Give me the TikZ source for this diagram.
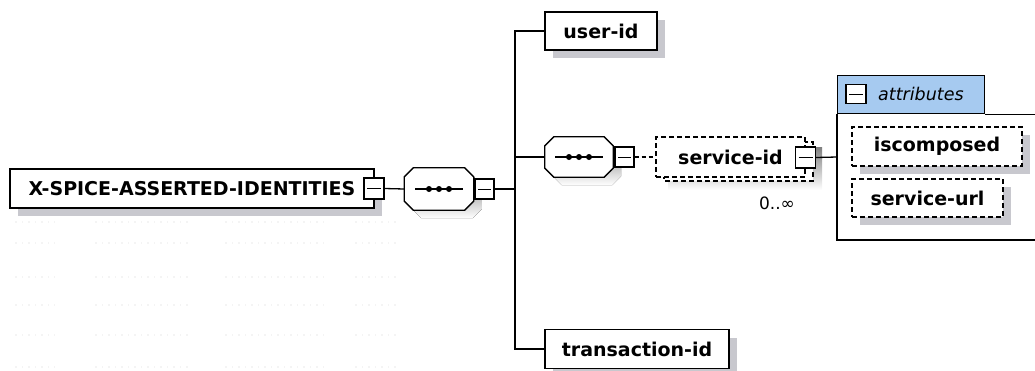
\documentclass[tikz,border=0pt]{standalone}
\usepackage{fontspec}
\setmainfont{DejaVu Sans}
\usetikzlibrary{shadows}
\definecolor{shade}{RGB}{200,200,206}
\definecolor{tabblue}{RGB}{166,202,240}
\definecolor{faint}{RGB}{244,244,244}
\tikzset{
  elem/.style={draw=black, line width=1.5pt, fill=white, inner sep=0pt,
    font=\bfseries\fontsize{19}{19}\selectfont,
    drop shadow={shadow xshift=8pt, shadow yshift=-8pt, fill=shade, opacity=1}},
  optelem/.style={elem, line width=1.2pt, dash pattern=on 5pt off 3pt},
  seqframe/.style={inner sep=0pt},
  minusbox/.style={draw=black, line width=1.2pt, fill=white, inner sep=0pt,
    minimum width=19pt, minimum height=20pt,
    path picture={\draw[line width=1pt]
      ([xshift=3pt]path picture bounding box.west) --
      ([xshift=-3pt]path picture bounding box.east);}},
  conn/.style={line width=1.3pt, draw=black},
  optconn/.style={conn, line width=1.1pt, dash pattern=on 4pt off 3pt},
  faintrow/.style={draw=faint, line width=1.5pt, dash pattern=on 1.5pt off 5pt},
}
% octagonal outline of a compositor node, moved by (#2,#3)
\newcommand{\octpath}[3]{%
  ([xshift=9pt+#2, yshift=#3]#1.north west) -- ([xshift=-9pt+#2, yshift=#3]#1.north east)
  -- ([xshift=#2, yshift=-9pt+#3]#1.north east) -- ([xshift=#2, yshift=9pt+#3]#1.south east)
  -- ([xshift=-9pt+#2, yshift=#3]#1.south east) -- ([xshift=9pt+#2, yshift=#3]#1.south west)
  -- ([xshift=#2, yshift=9pt+#3]#1.south west) -- ([xshift=#2, yshift=-9pt+#3]#1.north west)
  -- cycle}
\newcommand{\seqsymbol}[1]{%
  \fill[shade] \octpath{#1}{8pt}{-8pt};
  \draw[line width=1.3pt, fill=white] \octpath{#1}{0pt}{0pt};
  \draw[line width=1.1pt] ([xshift=-24pt]#1.center) -- ([xshift=24pt]#1.center);
  \foreach \dx in {-10,0,10}
    \fill ([xshift=\dx pt]#1.center) circle (3pt);}
\begin{document}
\begin{tikzpicture}[x=1pt,y=-1pt]
\useasboundingbox (0,0) rectangle (1035,370);

% faint dotted rows at lower left
\foreach \yy in {222,243,277,305,335,367}
  \foreach \xa/\xb in {15/55,95/190,225/325,355/400}
    \draw[faintrow] (\xa,\yy) -- (\xb,\yy);

% root element
\node[elem, minimum width=364pt, minimum height=39pt] (root) at (192,188.5)
  {X-SPICE-ASSERTED-IDENTITIES\hspace{9pt}};
\node[minusbox, minimum width=20pt, minimum height=21pt] (rootminus) at (374,188.5) {};

% outer sequence compositor
\node[seqframe, minimum width=69pt, minimum height=42pt] (seqA) at (439,189) {};
\seqsymbol{seqA}
\node[minusbox] (seqAminus) at (484.5,189) {};

% children of the outer sequence
\coordinate (fork) at (515,189);
\node[elem, minimum width=112pt, minimum height=38pt] (user) at (601,31) {user-id};
\node[elem, minimum width=184pt, minimum height=39pt] (trans) at (637,349) {transaction-id};

% inner sequence compositor
\node[seqframe, minimum width=68pt, minimum height=40pt] (seqB) at (579,157) {};
\seqsymbol{seqB}
\node[minusbox] (seqBminus) at (624.5,157) {};

% optional, repeating element service-id
\fill[shade] (668,147) rectangle (822,190);
\draw[line width=1.2pt, dash pattern=on 5pt off 3pt, fill=white]
  (664,142) rectangle (813,181);
\node[draw=black, line width=1.2pt, dash pattern=on 5pt off 3pt, fill=white,
  inner sep=0pt, minimum width=149pt, minimum height=40pt,
  font=\bfseries\fontsize{19}{19}\selectfont] (svc) at (730.5,157)
  {service-id\hspace{14pt}};
\node[minusbox, minimum width=20pt, minimum height=21pt] (svcminus) at (805.5,157.5) {};
\node[font=\fontsize{17}{17}\selectfont, inner sep=0pt] (card) at (777,203) {0..∞};

% attributes panel
\fill[white] (837,75) rectangle (1040,240);
\node[draw=black, line width=1.2pt, fill=tabblue, inner sep=0pt,
  minimum width=147pt, minimum height=38pt, anchor=north west] (attrtab) at (837,75) {};
\draw[line width=1.2pt] (attrtab.south east) -- ++(60,0);
\draw[line width=1.2pt] (attrtab.south west) -- (837,240) coordinate (attrcorner) -- ++(210,0);
\coordinate (attrleft) at (837,157);
\node[minusbox, minimum width=20pt, minimum height=19pt] (attrminus) at (856,94) {};
\node[font=\itshape\fontsize{17.5}{17.5}\selectfont, inner sep=0pt, anchor=west]
  (attrlabel) at (878,94) {attributes};

\node[optelem, minimum width=170pt, minimum height=39pt] (iscomp) at (937,146.5) {iscomposed};
\node[optelem, minimum width=151pt, minimum height=38pt] (svcurl) at (927.5,198) {service-url};

% connectors
\draw[conn] (rootminus.east) -- (seqA.west);
\draw[conn] (seqAminus.east) -- (fork);
\draw[conn] (user.west) -| (fork);
\draw[conn] (trans.west) -| (fork);
\draw[conn] (seqB.west) -- (seqB.west -| fork);
\draw[optconn] (seqBminus.east) -- (svc.west);
\draw[conn] (svcminus.east) -- (attrleft);
\end{tikzpicture}
\end{document}
